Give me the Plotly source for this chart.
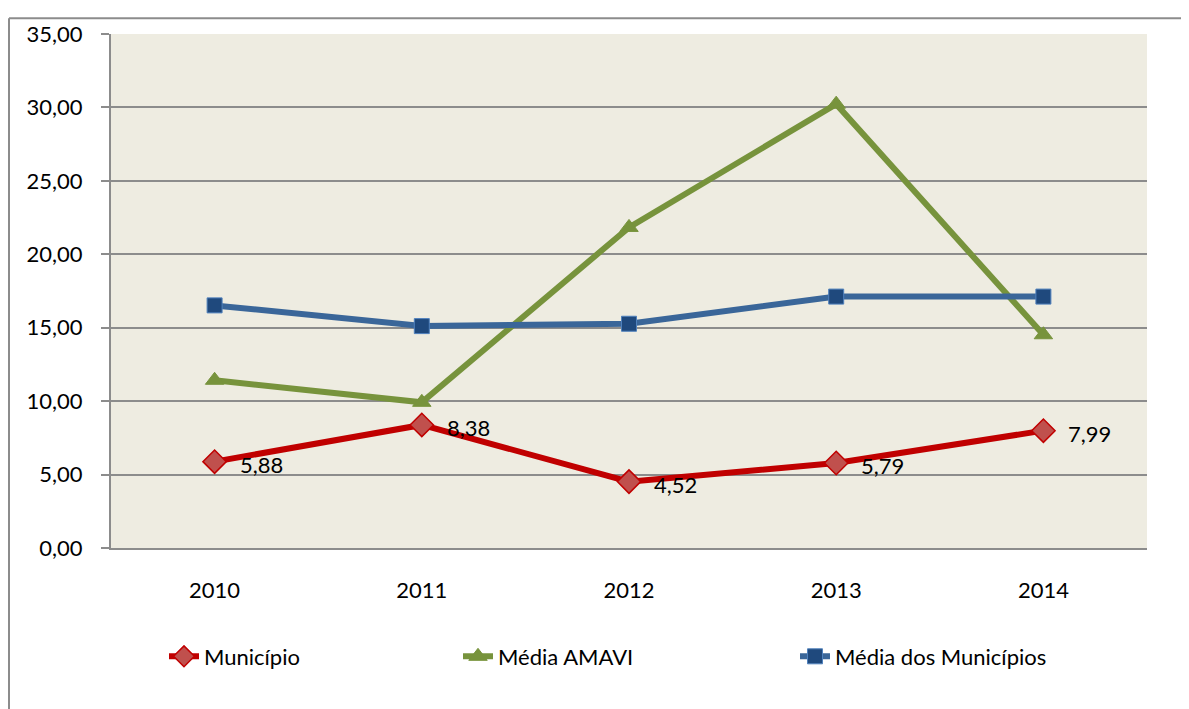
import plotly.graph_objects as go

anos = ["2010", "2011", "2012", "2013", "2014"]
municipio = [5.88, 8.38, 4.52, 5.79, 7.99]
media_amavi = [11.42, 9.92, 21.83, 30.22, 14.52]
media_municipios = [16.52, 15.11, 15.27, 17.12, 17.12]

# page body has an 8px margin; figure is placed at (8, 8)
OFF = 8
W, H = 1189 - OFF, 709 - OFF
L, R, T, B = 111, 1147, 27, 548  # plot area in page pixels
FONT = "Lato"


def px_x(p):
    return (p - L) / (R - L)


def px_y(p):
    return (B - p) / (B - T)


fig = go.Figure()

fig.add_trace(go.Scatter(
    x=anos, y=municipio, name="Município", mode="lines+markers",
    line=dict(color="#C00000", width=6),
    marker=dict(symbol="diamond", size=18, color="#C0504D",
                line=dict(color="#C00000", width=1.5)),
    legend="legend",
))
fig.add_trace(go.Scatter(
    x=anos, y=media_amavi, name="Média AMAVI", mode="lines+markers",
    line=dict(color="#77933C", width=6),
    marker=dict(symbol="triangle-up", size=16, color="#77933C",
                line=dict(color="#77933C", width=1)),
    legend="legend2",
))
fig.add_trace(go.Scatter(
    x=anos, y=media_municipios, name="Média dos Municípios", mode="lines+markers",
    line=dict(color="#3A6699", width=6),
    marker=dict(symbol="square", size=15, color="#1F497D",
                line=dict(color="#4F81BD", width=1)),
    legend="legend3",
))

annotations = []
for i, v in enumerate(municipio):
    annotations.append(dict(
        x=i, y=v, xref="x", yref="y", text=f"{v:.2f}".replace(".", ","),
        showarrow=False, xanchor="left", yanchor="middle",
        xshift=23, yshift=-3, font=dict(family=FONT, size=22, color="black"),
    ))

legend_common = dict(orientation="h", yanchor="middle", xanchor="left",
                     bgcolor="rgba(0,0,0,0)", font=dict(family=FONT, size=22, color="black"))

fig.update_layout(
    width=W, height=H,
    margin=dict(l=L - OFF, r=W + OFF - R, t=T - OFF, b=H + OFF - B),
    paper_bgcolor="white",
    plot_bgcolor="#EEECE1",
    separators=",.",
    font=dict(family=FONT, size=22, color="black"),
    showlegend=True,
    legend=dict(x=px_x(164), y=px_y(658), **legend_common),
    legend2=dict(x=px_x(458), y=px_y(658), **legend_common),
    legend3=dict(x=px_x(795), y=px_y(658), **legend_common),
    annotations=annotations,
    xaxis=dict(
        type="category", range=[-0.5, 4.5], showgrid=False,
        showline=True, linecolor="#8C8C8C", linewidth=2,
        ticks="", ticklabelstandoff=22,
        tickfont=dict(family=FONT, size=22, color="black"),
    ),
    yaxis=dict(
        range=[0, 35], dtick=5, tickformat=".2f",
        showgrid=True, gridcolor="#8C8C8C", gridwidth=2,
        showline=True, linecolor="#8C8C8C", linewidth=2,
        ticks="outside", ticklen=8, tickcolor="#8C8C8C", tickwidth=2,
        ticklabelstandoff=14, zeroline=False,
        tickfont=dict(family=FONT, size=22, color="black"),
    ),
    shapes=[
        dict(type="line", xref="paper", yref="paper",
             x0=px_x(9), x1=px_x(9), y0=px_y(11), y1=px_y(712),
             line=dict(color="#8C8C8C", width=2)),
        dict(type="line", xref="paper", yref="paper",
             x0=px_x(9), x1=px_x(1192), y0=px_y(11), y1=px_y(11),
             line=dict(color="#8C8C8C", width=2)),
    ],
)

fig.write_html("out.html")
